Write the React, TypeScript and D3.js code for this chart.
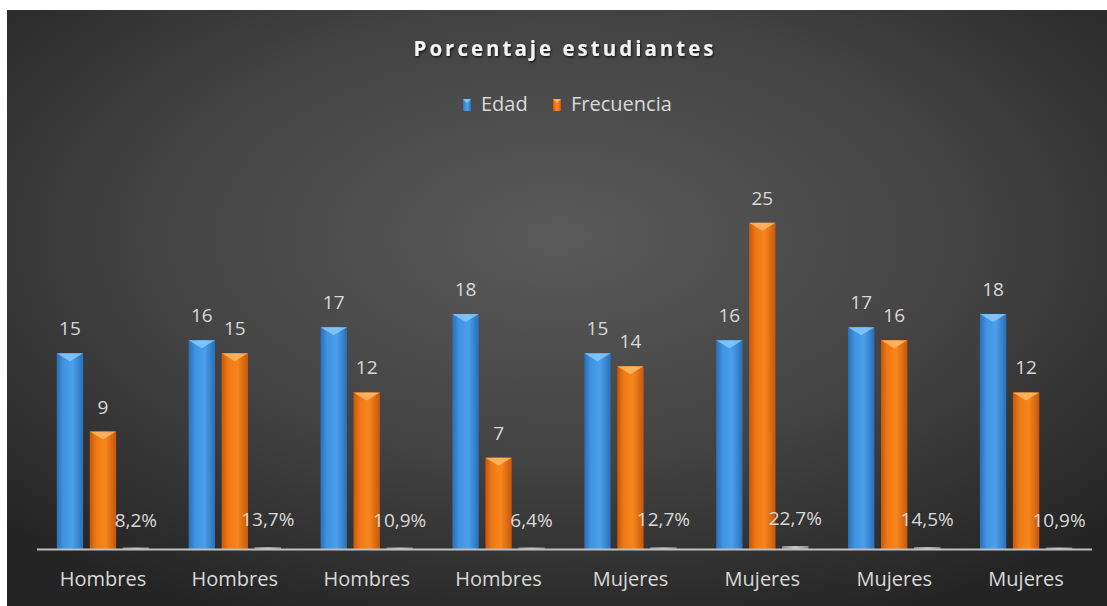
import React from "react";
import * as d3 from "d3";

const categories = ["Hombres", "Hombres", "Hombres", "Hombres", "Mujeres", "Mujeres", "Mujeres", "Mujeres"];
const edad = [15, 16, 17, 18, 15, 16, 17, 18];
const frecuencia = [9, 15, 12, 7, 14, 25, 16, 12];
const porcentaje = [0.082, 0.137, 0.109, 0.064, 0.127, 0.227, 0.145, 0.109];
const porcentajeLabels = ["8,2%", "13,7%", "10,9%", "6,4%", "12,7%", "22,7%", "14,5%", "10,9%"];
const seriesKeys = ["edad", "frecuencia", "porcentaje"];
const legendItems = ["Edad", "Frecuencia"];

const W = 1107;
const H = 606;
const FONT = "'Open Sans', 'DejaVu Sans', sans-serif";

export default function App() {
  const x0 = d3.scaleBand<number>().domain(d3.range(categories.length)).range([37, 1092]).paddingInner(0.3).paddingOuter(0.15);
  const x1 = d3.scaleBand<string>().domain(seriesKeys).range([0, x0.bandwidth()]).paddingInner(0.2);
  const y = d3.scaleLinear().domain([0, 30]).range([549, 157.5]);
  const baseY = y(0);
  const bw = x1.bandwidth();

  const seriesVals: Record<string, number[]> = { edad, frecuencia, porcentaje };
  const fills: Record<string, string> = { edad: "url(#gBlue)", frecuencia: "url(#gOrange)", porcentaje: "url(#gGray)" };
  const bevel: Record<string, string> = { edad: "#8fd0ff", frecuencia: "#ffc070", porcentaje: "#dddddd" };

  return (
    <svg width={W} height={H} style={{ position: "absolute", left: 0, top: 0, display: "block" }}>
      <defs>
        <radialGradient id="bg" cx="50%" cy="38%" r="70%" fx="50%" fy="38%">
          <stop offset="0%" stopColor="#5a5a5a" />
          <stop offset="55%" stopColor="#424242" />
          <stop offset="100%" stopColor="#242424" />
        </radialGradient>
        <linearGradient id="gBlue" x1="0" x2="1" y1="0" y2="0">
          <stop offset="0%" stopColor="#2a6fb8" />
          <stop offset="25%" stopColor="#3f93e0" />
          <stop offset="60%" stopColor="#4aa0ec" />
          <stop offset="100%" stopColor="#2a6fb8" />
        </linearGradient>
        <linearGradient id="gOrange" x1="0" x2="1" y1="0" y2="0">
          <stop offset="0%" stopColor="#c4580c" />
          <stop offset="25%" stopColor="#ef7a14" />
          <stop offset="60%" stopColor="#f7861c" />
          <stop offset="100%" stopColor="#c4580c" />
        </linearGradient>
        <linearGradient id="gGray" x1="0" x2="1" y1="0" y2="0">
          <stop offset="0%" stopColor="#8a8a8a" />
          <stop offset="50%" stopColor="#c8c8c8" />
          <stop offset="100%" stopColor="#8a8a8a" />
        </linearGradient>
        <filter id="tshadow" x="-10%" y="-30%" width="120%" height="160%">
          <feDropShadow dx="1" dy="1.5" stdDeviation="1" floodColor="#000" floodOpacity="0.7" />
        </filter>
      </defs>
      <rect x={0} y={0} width={W} height={H} fill="#ffffff" />
      <rect x={7} y={10} width={W - 7} height={H - 10} fill="url(#bg)" />

      <text x={565} y={56} textAnchor="middle" fill="#f4f4f4" fontFamily={FONT} fontWeight={700} fontSize={20.5} letterSpacing={3} filter="url(#tshadow)">
        Porcentaje estudiantes
      </text>

      {legendItems.map((name, i) => {
        const lx = i === 0 ? 463 : 553;
        const fill = i === 0 ? "url(#gBlue)" : "url(#gOrange)";
        const bv = i === 0 ? "#8fd0ff" : "#ffc070";
        return (
          <g key={name}>
            <rect x={lx} y={99} width={8} height={12} fill={fill} />
            <path d={`M${lx},99 L${lx + 8},99 L${lx + 4},103 Z`} fill={bv} opacity={0.8} />
            <text x={lx + 18} y={111} fill="#d9d9d9" fontFamily={FONT} fontSize={20}>{name}</text>
          </g>
        );
      })}

      {categories.map((cat, i) => (
        <g key={i} transform={`translate(${x0(i)},0)`}>
          {seriesKeys.map((k) => {
            const v = seriesVals[k][i];
            const top = y(v);
            const bx = x1(k) as number;
            const h = Math.max(baseY - top, 1.5);
            const t = baseY - h;
            const label = k === "porcentaje" ? porcentajeLabels[i] : String(v);
            const off = k === "porcentaje" ? 21 : 18;
            const bvH = Math.min(8, h);
            return (
              <g key={k}>
                <rect x={bx} y={t} width={bw} height={h} fill={fills[k]} />
                {k !== "porcentaje" && (
                  <path d={`M${bx},${t} L${bx + bw},${t} L${bx + bw / 2},${t + bvH} Z`} fill={bevel[k]} opacity={0.75} />
                )}
                <text x={bx + bw / 2} y={top - off} textAnchor="middle" fill="#d9d9d9" fontFamily={FONT} fontSize={19}>
                  {label}
                </text>
              </g>
            );
          })}
          <text x={x0.step() / 2 - x0.step() * 0.15} y={586} textAnchor="middle" fill="#d9d9d9" fontFamily={FONT} fontSize={20}>
            {cat}
          </text>
        </g>
      ))}

      <line x1={37} x2={1092} y1={baseY + 0.5} y2={baseY + 0.5} stroke="#bfbfbf" strokeWidth={2} />
    </svg>
  );
}
